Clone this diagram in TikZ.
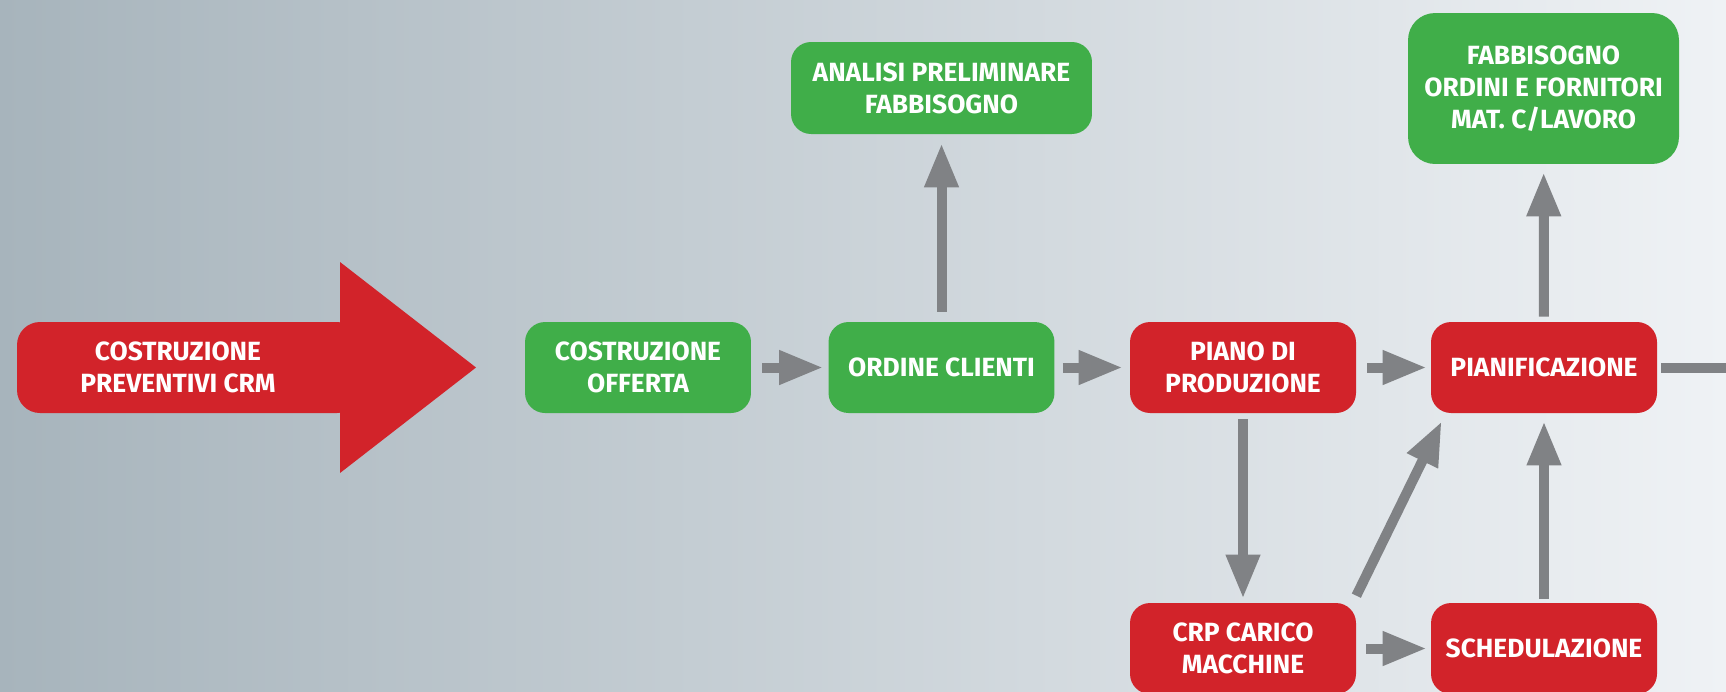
\documentclass[tikz,border=0pt]{standalone}
\usepackage{fontspec}
\setmainfont{Fira Sans}
\usetikzlibrary{arrows.meta}
\definecolor{bgleft}{RGB}{167,180,188}
\definecolor{bgright}{RGB}{239,242,245}
\definecolor{boxred}{RGB}{210,35,42}
\definecolor{boxgreen}{RGB}{64,174,73}
\definecolor{linkgray}{RGB}{128,130,133}
\begin{document}
\begin{tikzpicture}[x=0.02cm, y=-0.02cm,
    label/.style={align=center, text=white, font=\fontsize{15}{18.2}\selectfont\bfseries},
    box/.style={label, rounded corners=0.4cm, minimum width=4.52cm, minimum height=1.82cm, inner sep=0pt},
    redbox/.style={box, fill=boxred},
    greenbox/.style={box, fill=boxgreen},
    link/.style={linkgray, line width=0.2cm, -{Triangle[length=0.88cm,width=0.64cm]}}]
    \useasboundingbox (0,0) rectangle (1726,691);
    \shade[left color=bgleft, right color=bgright] (0,0) rectangle (1726,691);
    \fill[boxred, rounded corners=0.46cm] (17,322) rectangle (360,413);
    \fill[boxred] (340,262) -- (476,367.5) -- (340,473) -- cycle;
    \node[label] (crm) at (178,367.5) {COSTRUZIONE\\PREVENTIVI CRM};
    \node[greenbox] (offerta) at (638,367.5) {COSTRUZIONE\\OFFERTA};
    \node[greenbox] (ordine) at (941.5,367.5) {ORDINE CLIENTI};
    \node[redbox] (piano) at (1243,367.5) {PIANO DI\\PRODUZIONE};
    \node[redbox] (pianif) at (1544,367.5) {PIANIFICAZIONE};
    \node[redbox] (crp) at (1243,648.5) {CRP CARICO\\MACCHINE};
    \node[redbox] (sched) at (1544,648.5) {SCHEDULAZIONE};
    \node[greenbox, minimum width=6.02cm, minimum height=1.84cm] (analisi) at (941.5,88) {ANALISI PRELIMINARE\\FABBISOGNO};
    \node[greenbox, minimum width=5.42cm, minimum height=3.02cm, rounded corners=0.54cm] (fabb) at (1543.5,88.5) {FABBISOGNO\\ORDINI E FORNITORI\\MAT. C/LAVORO};
    \coordinate (exit) at (1750,367.5);
    \draw[link, shorten <=0.22cm, shorten >=0.1cm] (offerta) -- (ordine);
    \draw[link, shorten <=0.16cm, shorten >=0.14cm] (ordine) -- (piano);
    \draw[link, shorten <=0.22cm, shorten >=0.08cm] (piano) -- (pianif);
    \draw[link, shorten <=0.2cm, shorten >=0.08cm] (crp) -- (sched);
    \draw[link, shorten <=0.2cm, shorten >=0.18cm] (ordine) -- (analisi);
    \draw[link, shorten <=0.1cm, shorten >=0.16cm] (pianif) -- (fabb);
    \draw[link, shorten <=0.12cm, shorten >=0.08cm] (piano) -- (crp);
    \draw[link, shorten <=0.08cm, shorten >=0.16cm] (sched) -- (pianif);
    \draw[link] ([shift={(0,-7)}]crp.north east) -- ([shift={(11,8)}]pianif.south west);
    \draw[linkgray, line width=0.2cm, shorten <=0.08cm] (pianif) -- (exit);
\end{tikzpicture}
\end{document}
